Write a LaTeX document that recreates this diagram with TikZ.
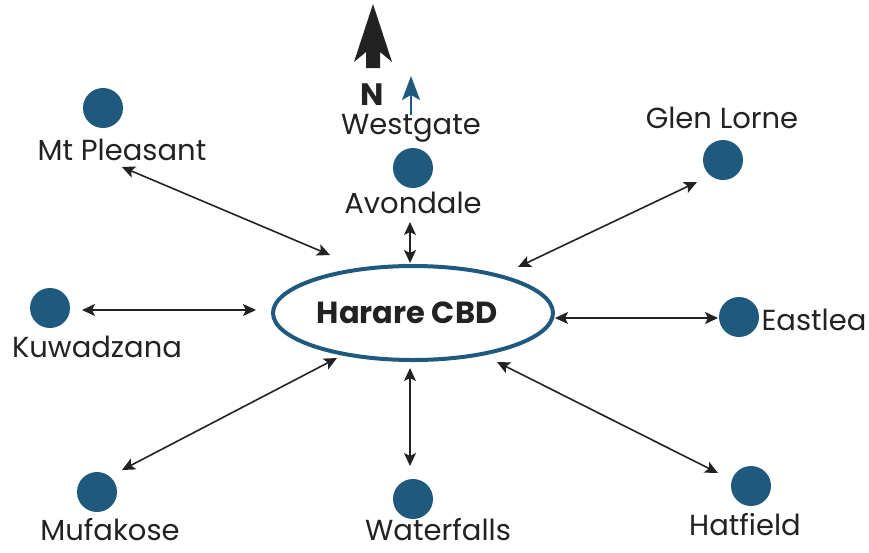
\documentclass[tikz,border=0pt]{standalone}
\usepackage{fontspec}
\setmainfont{Poppins}
\usetikzlibrary{arrows.meta,shapes.geometric}
\definecolor{hblue}{HTML}{1F5A7E}
\definecolor{hblack}{HTML}{222222}
\tikzset{
  dot/.style={circle,fill=hblue,minimum size=40pt,inner sep=0pt},
  lbl/.style={font=\fontsize{29}{32}\selectfont,text=hblack,inner sep=0pt},
  link/.style={draw=hblack,line width=1.6pt,{Stealth[length=13pt,width=12pt,inset=3pt]}-{Stealth[length=13pt,width=12pt,inset=3pt]}}
}
\begin{document}
\begin{tikzpicture}[x=1pt,y=-1pt]
\useasboundingbox (0,0) rectangle (869,552);
% centre
\node[draw=hblue,line width=4pt,ellipse,minimum width=280pt,minimum height=94pt] (cbd) at (413,313) {};
\node[font=\bfseries\fontsize{30.5}{34}\selectfont,text=hblack] (cbdt) at (407,313) {Harare CBD};
% dots
\node[dot] (mtp) at (103,108) {};
\node[dot] (ava) at (413,168) {};
\node[dot] (glen) at (723,160) {};
\node[dot] (kuw) at (50,308) {};
\node[dot] (east) at (739,317) {};
\node[dot] (muf) at (97,492) {};
\node[dot] (wat) at (413,499) {};
\node[dot] (hat) at (751,486) {};
% labels
\node[lbl] (mtpl) at (122,150) {Mt Pleasant};
\node[lbl] (westl) at (411,128) {Westgate};
\node[lbl] (aval) at (413,203) {Avondale};
\node[lbl] (glenl) at (722,118) {Glen Lorne};
\node[lbl] (kuwl) at (97,347) {Kuwadzana};
\node[lbl] (eastl) at (814,320) {Eastlea};
\node[lbl] (mufl) at (110,530) {Mufakose};
\node[lbl] (watl) at (438,530) {Waterfalls};
\node[lbl] (hatl) at (745,525) {Hatfield};
% connector ends
\coordinate (a1) at (122,167); \coordinate (b1) at (330,255);
\coordinate (a2) at (410,222); \coordinate (b2) at (410,263);
\coordinate (a3) at (697,182); \coordinate (b3) at (518,267);
\coordinate (a4) at (82,310);  \coordinate (b4) at (256,310);
\coordinate (a5) at (718,318); \coordinate (b5) at (555,318);
\coordinate (a6) at (122,470); \coordinate (b6) at (337,358);
\coordinate (a7) at (410,466); \coordinate (b7) at (410,368);
\coordinate (a8) at (718,473); \coordinate (b8) at (497,362);
\foreach \i in {1,...,8} {\draw[link] (a\i) -- (b\i);}
% north arrow
\fill[hblack] (366,68) -- (366,52) -- (354,62) -- (373,4) -- (392,62) -- (380,52) -- (380,68) -- cycle;
\node[font=\bfseries\fontsize{31}{34}\selectfont,text=hblack] (north) at (372,95) {N};
\coordinate (bs) at (411,115); \coordinate (bt) at (411,76);
\draw[hblue,line width=2pt,-{Stealth[length=24pt,width=18pt,inset=5pt]}] (bs) -- (bt);
\end{tikzpicture}
\end{document}
